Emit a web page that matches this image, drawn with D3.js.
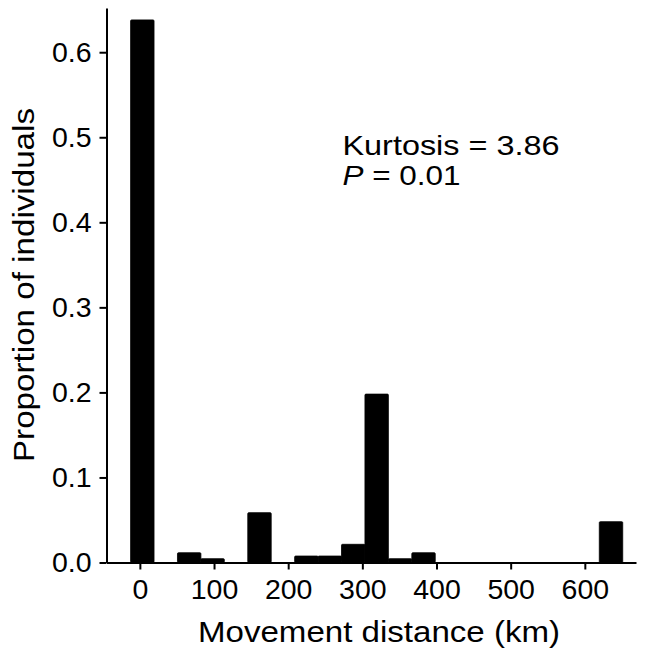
<!DOCTYPE html>
<html>
<head>
<meta charset="utf-8">
<script src="https://cdn.jsdelivr.net/npm/d3@7"></script>
<style>
  body { margin: 0; background: #fff; }
  svg { display: block; font-family: "Liberation Sans", Arial, sans-serif; }
</style>
</head>
<body>
<svg width="645" height="654"></svg>
<script>
"use strict";

// histogram bins (left edge in km), all bins are the same width
const binWidth = 31.6;
const binStarts = [-12.5, 50.7, 82.3, 145.5, 208.7, 240.3, 271.9, 303.5, 335.1, 366.7, 619.5];
const proportions = [0.638, 0.0115, 0.0045, 0.0586, 0.0076, 0.0076, 0.0214, 0.198, 0.0045, 0.0115, 0.048];

const xTicks = [0, 100, 200, 300, 400, 500, 600];
const yTicks = [0, 0.1, 0.2, 0.3, 0.4, 0.5, 0.6];

const kurtosisLabel = "Kurtosis = 3.86";
const pLabel = "0.01";

const svg = d3.select("svg");

const xScale = d3.scaleLinear().domain([-45, 669]).range([106.5, 636]);
const yScale = d3.scaleLinear().domain([0, 0.652]).range([562.5, 8]);

const bins = binStarts.map((s, i) => ({ start: s, value: proportions[i] }));

// bars
svg.append("g")
  .selectAll("rect")
  .data(bins)
  .enter()
  .append("rect")
  .attr("x", (d) => xScale(d.start))
  .attr("y", (d) => yScale(d.value))
  .attr("width", (d) => xScale(d.start + binWidth) - xScale(d.start))
  .attr("height", (d) => yScale(0) - yScale(d.value))
  .attr("rx", 1)
  .style("fill", "#000")
  .style("stroke", "#000")
  .style("stroke-width", 0.8);

// axes
const xAxis = d3.axisBottom(xScale).tickValues(xTicks).tickSize(7).tickPadding(9).tickSizeOuter(0);
const yAxis = d3.axisLeft(yScale).tickValues(yTicks).tickSize(7).tickPadding(8).tickSizeOuter(0)
  .tickFormat(d3.format(".1f"));

const xg = svg.append("g").attr("transform", "translate(0, 562.5)").call(xAxis);
const yg = svg.append("g").attr("transform", "translate(106.5, 0)").call(yAxis);

[xg, yg].forEach((g) => {
  g.select(".domain").attr("stroke", "#000").attr("stroke-width", 2);
  g.selectAll(".tick line").attr("stroke", "#000").attr("stroke-width", 2);
  g.selectAll(".tick text")
    .attr("fill", "#000")
    .style("font-size", "28.5px")
    .style("font-family", "'Liberation Sans', Arial, sans-serif");
});

// axis titles (the original lettering is a little wider than the font, so stretch to its width)
svg.append("text")
  .attr("x", 198)
  .attr("y", 641.5)
  .attr("textLength", 362)
  .attr("lengthAdjust", "spacingAndGlyphs")
  .style("font-size", "29px")
  .text("Movement distance (km)");

svg.append("text")
  .attr("transform", "translate(34, 462) rotate(-90)")
  .attr("textLength", 354)
  .attr("lengthAdjust", "spacingAndGlyphs")
  .style("font-size", "29px")
  .text("Proportion of individuals");

// annotation
svg.append("text")
  .attr("x", 342.5)
  .attr("y", 155)
  .attr("textLength", 217)
  .attr("lengthAdjust", "spacingAndGlyphs")
  .style("font-size", "28px")
  .text(kurtosisLabel);

const pt = svg.append("text")
  .attr("x", 342.5)
  .attr("y", 184.5)
  .attr("textLength", 118)
  .attr("lengthAdjust", "spacingAndGlyphs")
  .style("font-size", "28px");
pt.append("tspan").style("font-style", "italic").text("P");
pt.append("tspan").text(" = " + pLabel);
</script>
</body>
</html>
